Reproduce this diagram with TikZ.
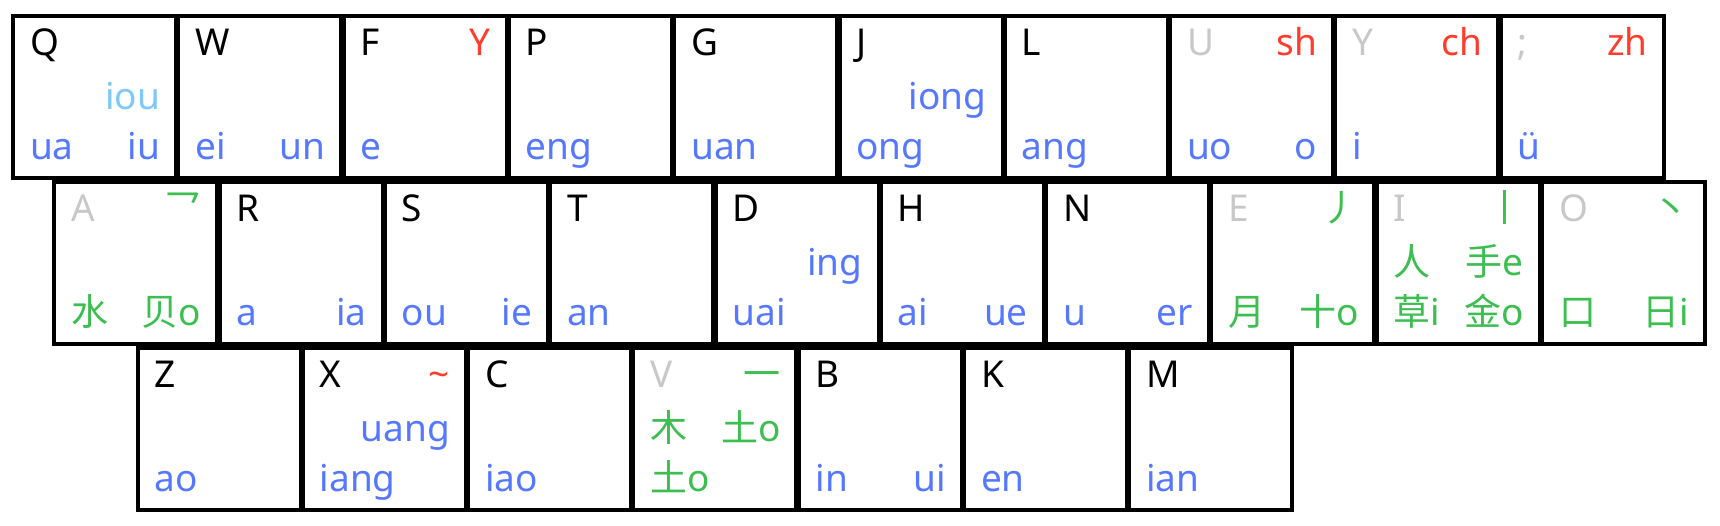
\documentclass[tikz,border=0pt]{standalone}
\usepackage{fontspec}
\setmainfont{Noto Sans}
\newfontfamily\cjk{Noto Sans CJK SC}
\definecolor{pyblue}{RGB}{85,120,255}
\definecolor{ltblue}{RGB}{125,200,255}
\definecolor{hred}{RGB}{255,60,45}
\definecolor{hgreen}{RGB}{60,190,80}
\definecolor{hgrey}{RGB}{200,200,200}
\tikzset{
  keybox/.style={draw=black,line width=4pt,minimum width=163pt,minimum height=162pt,inner sep=0pt,outer sep=0pt,anchor=north west},
  lab/.style={inner sep=0pt,outer sep=0pt,font=\fontsize{37}{37}\selectfont},
  py/.style={text=pyblue},
  lb/.style={text=ltblue},
  rd/.style={text=hred},
  gn/.style={text=hgreen},
  gy/.style={text=hgrey},
  bk/.style={text=black}
}
\newcommand\kKey[3]{\node[keybox] (k#1) at (#2,#3) {};}
\newcommand\kTL[3]{\node[lab,#3,anchor=base west] (k#1tl) at ([xshift=17pt,yshift=-39pt]k#1.north west) {#2};}
\newcommand\kTR[3]{\node[lab,#3,anchor=base east] (k#1tr) at ([xshift=147pt,yshift=-39pt]k#1.north west) {#2};}
\newcommand\kML[3]{\node[lab,#3,anchor=base west] (k#1ml) at ([xshift=17pt,yshift=-93pt]k#1.north west) {#2};}
\newcommand\kMR[3]{\node[lab,#3,anchor=base east] (k#1mr) at ([xshift=147pt,yshift=-93pt]k#1.north west) {#2};}
\newcommand\kBL[3]{\node[lab,#3,anchor=base west] (k#1bl) at ([xshift=17pt,yshift=-143pt]k#1.north west) {#2};}
\newcommand\kBR[3]{\node[lab,#3,anchor=base east] (k#1br) at ([xshift=147pt,yshift=-143pt]k#1.north west) {#2};}
\begin{document}
\begin{tikzpicture}[x=1pt,y=-1pt]
\useasboundingbox (0,0) rectangle (1720,526);
% row 1
\kKey{Q}{13}{16.5}
\kKey{W}{178.3}{16.5}
\kKey{F}{343.6}{16.5}
\kKey{P}{508.9}{16.5}
\kKey{G}{674.2}{16.5}
\kKey{J}{839.5}{16.5}
\kKey{L}{1004.8}{16.5}
\kKey{U}{1170.1}{16.5}
\kKey{Y}{1335.4}{16.5}
\kKey{SC}{1500.7}{16.5}
% row 2
\kKey{A}{54.3}{182.3}
\kKey{R}{219.6}{182.3}
\kKey{S}{384.9}{182.3}
\kKey{T}{550.2}{182.3}
\kKey{D}{715.5}{182.3}
\kKey{H}{880.8}{182.3}
\kKey{N}{1046.1}{182.3}
\kKey{E}{1211.4}{182.3}
\kKey{I}{1376.7}{182.3}
\kKey{O}{1542.0}{182.3}
% row 3
\kKey{Z}{137.5}{348}
\kKey{X}{302.8}{348}
\kKey{C}{468.1}{348}
\kKey{V}{633.4}{348}
\kKey{B}{798.7}{348}
\kKey{K}{964.0}{348}
\kKey{M}{1129.3}{348}
% labels row 1
\kTL{Q}{Q}{bk}\kMR{Q}{iou}{lb}\kBL{Q}{ua}{py}\kBR{Q}{iu}{py}
\kTL{W}{W}{bk}\kBL{W}{ei}{py}\kBR{W}{un}{py}
\kTL{F}{F}{bk}\kTR{F}{Y}{rd}\kBL{F}{e}{py}
\kTL{P}{P}{bk}\kBL{P}{eng}{py}
\kTL{G}{G}{bk}\kBL{G}{uan}{py}
\kTL{J}{J}{bk}\kMR{J}{iong}{py}\kBL{J}{ong}{py}
\kTL{L}{L}{bk}\kBL{L}{ang}{py}
\kTL{U}{U}{gy}\kTR{U}{sh}{rd}\kBL{U}{uo}{py}\kBR{U}{o}{py}
\kTL{Y}{Y}{gy}\kTR{Y}{ch}{rd}\kBL{Y}{i}{py}
\kTL{SC}{;}{gy}\kTR{SC}{zh}{rd}\kBL{SC}{ü}{py}
% labels row 2
\kTL{A}{A}{gy}\kTR{A}{\cjk 乛}{gn}\kBL{A}{\cjk 水}{gn}\kBR{A}{{\cjk 贝}o}{gn}
\kTL{R}{R}{bk}\kBL{R}{a}{py}\kBR{R}{ia}{py}
\kTL{S}{S}{bk}\kBL{S}{ou}{py}\kBR{S}{ie}{py}
\kTL{T}{T}{bk}\kBL{T}{an}{py}
\kTL{D}{D}{bk}\kMR{D}{ing}{py}\kBL{D}{uai}{py}
\kTL{H}{H}{bk}\kBL{H}{ai}{py}\kBR{H}{ue}{py}
\kTL{N}{N}{bk}\kBL{N}{u}{py}\kBR{N}{er}{py}
\kTL{E}{E}{gy}\kTR{E}{\cjk 丿}{gn}\kBL{E}{\cjk 月}{gn}\kBR{E}{{\cjk 十}o}{gn}
\kTL{I}{I}{gy}\kTR{I}{\cjk 丨}{gn}\kML{I}{\cjk 人}{gn}\kMR{I}{{\cjk 手}e}{gn}\kBL{I}{{\cjk 草}i}{gn}\kBR{I}{{\cjk 金}o}{gn}
\kTL{O}{O}{gy}\kTR{O}{\cjk 丶}{gn}\kBL{O}{\cjk 口}{gn}\kBR{O}{{\cjk 日}i}{gn}
% labels row 3
\kTL{Z}{Z}{bk}\kBL{Z}{ao}{py}
\kTL{X}{X}{bk}\kTR{X}{\textasciitilde}{rd}\kMR{X}{uang}{py}\kBL{X}{iang}{py}
\kTL{C}{C}{bk}\kBL{C}{iao}{py}
\kTL{V}{V}{gy}\kTR{V}{\cjk 一}{gn}\kML{V}{\cjk 木}{gn}\kMR{V}{{\cjk 土}o}{gn}\kBL{V}{{\cjk 土}o}{gn}
\kTL{B}{B}{bk}\kBL{B}{in}{py}\kBR{B}{ui}{py}
\kTL{K}{K}{bk}\kBL{K}{en}{py}
\kTL{M}{M}{bk}\kBL{M}{ian}{py}
\end{tikzpicture}
\end{document}
